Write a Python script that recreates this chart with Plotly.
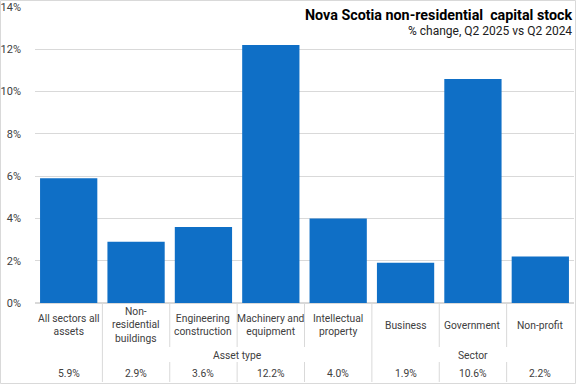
import plotly.graph_objects as go

categories = ["All sectors all<br>assets", "Non-<br>residential<br>buildings", "Engineering<br>construction",
              "Machinery and<br>equipment", "Intellectual<br>property", "Business", "Government", "Non-profit"]
values = [5.9, 2.9, 3.6, 12.2, 4.0, 1.9, 10.6, 2.2]
value_labels = ["5.9%", "2.9%", "3.6%", "12.2%", "4.0%", "1.9%", "10.6%", "2.2%"]
groups = [("Asset type", 1, 4), ("Sector", 5, 7)]
y_ticks = [0, 2, 4, 6, 8, 10, 12, 14]

W, H = 576, 384
ML, MR, MT, MB = 35, 2, 7, 81
PH = H - MT - MB
FONT = "Roboto, Arial, sans-serif"
TXT = "#404040"
LINE = "#d9d9d9"
LBL = 10.3

def py(pix):
    # pixel y (from top) -> paper coordinate
    return (H - MB - pix) / PH

fig = go.Figure(go.Bar(
    x=list(range(len(values))), y=values,
    marker=dict(color="#0f6fc6", line=dict(width=0)),
    width=0.85, hoverinfo="skip"))

shapes = []
annotations = []
n = len(values)
group_bounds = set()
for g, a, b in groups:
    group_bounds.add(a - 0.5)
    group_bounds.add(b + 0.5)
for i in range(1, n):
    xb = i - 0.5
    if xb in group_bounds:
        shapes.append(dict(type="line", xref="x", yref="paper", x0=xb, x1=xb,
                           y0=py(303), y1=py(382), line=dict(color=LINE, width=1)))
    else:
        shapes.append(dict(type="line", xref="x", yref="paper", x0=xb, x1=xb,
                           y0=py(303), y1=py(347), line=dict(color=LINE, width=1)))
        shapes.append(dict(type="line", xref="x", yref="paper", x0=xb, x1=xb,
                           y0=py(362), y1=py(382), line=dict(color=LINE, width=1)))

# chart border
PW = W - ML - MR
shapes.append(dict(type="rect", xref="paper", yref="paper",
                   x0=(0.5 - ML) / PW, x1=(W - 0.5 - ML) / PW,
                   y0=py(383.5), y1=py(0.5), line=dict(color=LINE, width=1)))

for i, c in enumerate(categories):
    annotations.append(dict(x=i, y=py(325), xref="x", yref="paper", text=c, showarrow=False,
                            yanchor="middle", xanchor="center", align="center",
                            font=dict(family=FONT, size=LBL, color=TXT)))
    annotations.append(dict(x=i, y=py(373), xref="x", yref="paper", text=value_labels[i],
                            showarrow=False, yanchor="middle", xanchor="center",
                            font=dict(family=FONT, size=LBL, color=TXT)))
for g, a, b in groups:
    annotations.append(dict(x=(a + b) / 2, y=py(355), xref="x", yref="paper", text=g,
                            showarrow=False, yanchor="middle", xanchor="center",
                            font=dict(family=FONT, size=LBL, color=TXT)))

annotations.append(dict(x=1, y=py(15), xref="paper", yref="paper", xanchor="right", yanchor="middle",
                        text="<b>Nova Scotia non-residential  capital stock</b>", showarrow=False,
                        font=dict(family=FONT, size=14.3, color="#000000")))
annotations.append(dict(x=1, y=py(31), xref="paper", yref="paper", xanchor="right", yanchor="middle",
                        text="% change, Q2 2025 vs Q2 2024", showarrow=False,
                        font=dict(family=FONT, size=12, color="#202020")))

fig.update_layout(
    width=W, height=H,
    margin=dict(l=ML, r=MR, t=MT, b=MB),
    paper_bgcolor="white", plot_bgcolor="white",
    showlegend=False,
    xaxis=dict(range=[-0.5, n - 0.5], showticklabels=False, showgrid=False, zeroline=False,
               showline=False, ticks=""),
    yaxis=dict(range=[0, 14], tickvals=y_ticks, ticktext=[f"{v}%" for v in y_ticks],
               showgrid=True, gridcolor=LINE, gridwidth=1, zeroline=True, zerolinecolor=LINE,
               showline=False, ticks="", tickfont=dict(family=FONT, size=11, color=TXT),
               ticklabelstandoff=13),
    shapes=shapes, annotations=annotations,
    font=dict(family=FONT),
)

fig.write_html("out.html", config={"displayModeBar": False},
               post_script="document.body.style.margin='0';document.body.style.overflow='hidden';")
